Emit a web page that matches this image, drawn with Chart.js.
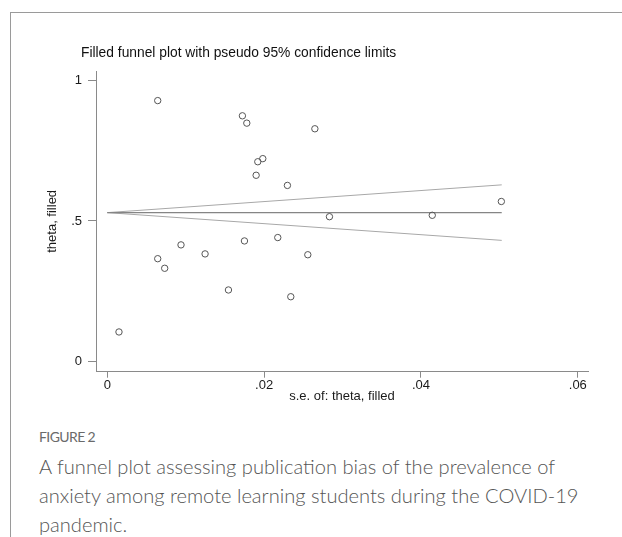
<!DOCTYPE html>
<html>
<head>
<meta charset="utf-8">
<script src="https://cdn.jsdelivr.net/npm/chart.js@4.4.1/dist/chart.umd.min.js"></script>
<style>
  html, body { margin: 0; padding: 0; background: #fff; }
  body { width: 622px; height: 537px; position: relative; overflow: hidden; }
  #frame { position: absolute; left: 10px; top: 12px; width: 620px; height: 530px;
           border-top: 1.5px solid #9a9a9a; border-left: 1.5px solid #9a9a9a; }
  #wrap { position: absolute; left: 0; top: 0; width: 622px; height: 420px; }
  #title { position: absolute; left: 81px; top: 45px; font: 13.8px "Liberation Sans", Arial, sans-serif;
           line-height: 15px; color: #111; white-space: nowrap; }
  #figlab { position: absolute; left: 39px; top: 427px; font: 14px Lato, "Open Sans", sans-serif;
            color: #6a6a6a; line-height: 20px; letter-spacing: -0.6px; }
  #caption { position: absolute; left: 39px; top: 452px; width: 580px; font: 300 20.1px Lato, "Open Sans", sans-serif;
             color: #555; line-height: 28.8px; white-space: nowrap; }
</style>
</head>
<body>
<div id="frame"></div>
<div id="wrap"><canvas id="c" width="622" height="420"></canvas></div>
<div id="title">Filled funnel plot with pseudo 95% confidence limits</div>
<div id="figlab">FIGURE 2</div>
<div id="caption">A funnel plot assessing publication bias of the prevalence of<br>anxiety among remote learning students during the COVID-19<br>pandemic.</div>
<script>
// Study standard errors (x) and filled theta estimates (y)
const seValues = [0.00643, 0.01723, 0.01779, 0.02647, 0.01983, 0.01919, 0.01898, 0.02297, 0.02833, 0.05025, 0.04144,
                  0.00149, 0.00643, 0.00732, 0.00940, 0.01247, 0.01545, 0.01749, 0.02174, 0.02340, 0.02557];
const thetaValues = [0.927, 0.873, 0.847, 0.827, 0.721, 0.710, 0.662, 0.626, 0.515, 0.569, 0.520,
                     0.106, 0.366, 0.332, 0.415, 0.383, 0.255, 0.429, 0.441, 0.231, 0.380];
// Pooled estimate and pseudo 95% limits at the ends of the funnel
const funnelSE = [0, 0.0503];
const pooledLine = [0.5295, 0.5295];
const upperLimit = [0.5295, 0.628];
const lowerLimit = [0.5295, 0.431];
// Axis ticks
const xTicks = [0, 0.02, 0.04, 0.06];
const yTicks = [0, 0.5, 1];

const fmt = v => {
  if (v === 0) return '0';
  if (v === 1) return '1';
  return String(v).replace(/^0\./, '.');
};

const pts = seValues.map((s, i) => ({ x: s, y: thetaValues[i] }));
const mkLine = arr => funnelSE.map((s, i) => ({ x: s, y: arr[i] }));

const axisColor = '#8a8a8a';
const fam = '"Liberation Sans", Arial, sans-serif';

new Chart(document.getElementById('c'), {
  type: 'scatter',
  data: {
    datasets: [
      { label: 'studies', data: pts, pointStyle: 'circle', pointRadius: 3.2, pointBorderWidth: 1,
        pointBorderColor: '#555', pointBackgroundColor: 'rgba(255,255,255,0)', showLine: false, order: 0 },
      { label: 'pooled', data: mkLine(pooledLine), showLine: true, borderColor: '#858585', borderWidth: 1.2,
        pointRadius: 0, order: 1 },
      { label: 'upper', data: mkLine(upperLimit), showLine: true, borderColor: '#a8a8a8', borderWidth: 1,
        pointRadius: 0, order: 1 },
      { label: 'lower', data: mkLine(lowerLimit), showLine: true, borderColor: '#a8a8a8', borderWidth: 1,
        pointRadius: 0, order: 1 }
    ]
  },
  options: {
    responsive: false,
    animation: false,
    layout: { padding: { left: 0, top: 71, right: 34, bottom: 8.3 } },
    plugins: { legend: { display: false }, tooltip: { enabled: false }, title: { display: false } },
    scales: {
      x: {
        type: 'linear', min: -0.00144, max: 0.0613,
        afterFit: s => { s.height = 40; },
        afterBuildTicks: s => { s.ticks = xTicks.map(v => ({ value: v })); },
        ticks: { callback: v => fmt(v), color: '#1a1a1a', font: { family: fam, size: 13 }, padding: 0,
                 minRotation: 0, maxRotation: 0, autoSkip: false },
        grid: { display: true, drawOnChartArea: false, drawTicks: true, tickLength: 6, color: axisColor, tickWidth: 1 },
        border: { display: true, color: axisColor, width: 1 },
        title: { display: true, text: 's.e. of: theta, filled', color: '#1a1a1a', font: { family: fam, size: 13 },
                 padding: { top: 0, bottom: 7.2 } }
      },
      y: {
        type: 'linear', min: -0.035, max: 1.032,
        afterFit: s => { s.width = 96; },
        afterBuildTicks: s => { s.ticks = yTicks.map(v => ({ value: v })); },
        ticks: { callback: v => fmt(v), color: '#1a1a1a', font: { family: fam, size: 13 }, padding: 6,
                 minRotation: 0, maxRotation: 0, autoSkip: false },
        grid: { display: true, drawOnChartArea: false, drawTicks: true, tickLength: 8, color: axisColor, tickWidth: 1 },
        border: { display: true, color: axisColor, width: 1 },
        title: { display: true, text: 'theta, filled', color: '#1a1a1a', font: { family: fam, size: 13 },
                 padding: { top: 45, bottom: 0 } }
      }
    }
  }
});
</script>
</body>
</html>
